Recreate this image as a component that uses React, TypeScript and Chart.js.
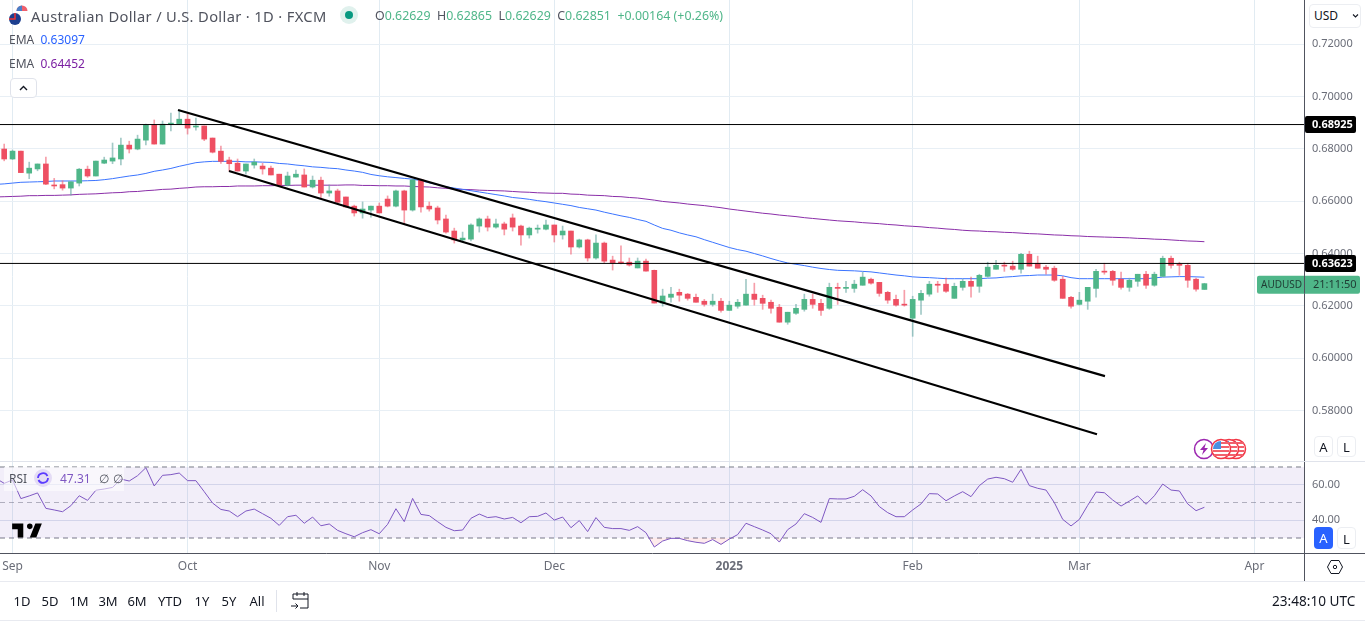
import React, { useEffect, useRef } from "react";
import { Chart, registerables } from "chart.js";

Chart.register(...registerables);

const FONT = '"Noto Sans", sans-serif';

const opens = [
  0.6800,
  0.6799,0.6761,0.6791,0.6707,0.6723,0.6742,0.6661,0.6663,0.6650,0.6669,
  0.6722,0.6696,0.6745,0.6753,0.6761,0.6814,0.6799,0.6833,0.6891,0.6818,
  0.6894,0.6894,0.6913,0.6883,0.6887,0.6841,0.6791,0.6757,0.6745,0.6715,
  0.6738,0.6734,0.6726,0.6703,0.6661,0.6692,0.6700,0.6654,0.6680,0.6631,
  0.6639,0.6616,0.6581,0.6555,0.6566,0.6581,0.6608,0.6581,0.6639,0.6566,
  0.6681,0.6581,0.6574,0.6532,0.6486,0.6452,0.6455,0.6505,0.6532,0.6501,
  0.6513,0.6536,0.6505,0.6471,0.6493,0.6493,0.6509,0.6471,0.6486,0.6425,
  0.6452,0.6383,0.6440,0.6375,0.6367,0.6367,0.6345,0.6371,0.6336,0.6211,
  0.6233,0.6252,0.6245,0.6233,0.6218,0.6206,0.6218,0.6183,0.6199,0.6203,
  0.6245,0.6229,0.6214,0.6195,0.6138,0.6172,0.6187,0.6225,0.6210,0.6191,
  0.6271,0.6267,0.6267,0.6279,0.6302,0.6290,0.6252,0.6225,0.6206,0.6153,
  0.6222,0.6245,0.6283,0.6283,0.6229,0.6271,0.6294,0.6275,0.6313,0.6340,
  0.6355,0.6352,0.6340,0.6397,0.6363,0.6348,0.6344,0.6302,0.6233,0.6206,
  0.6218,0.6267,0.6332,0.6332,0.6302,0.6271,0.6294,0.6321,0.6279,0.6313,
  0.6382,0.6359,0.6355,0.6302,0.62629,
];
const closes = [
  0.6780,
  0.6761,0.6791,0.6709,0.6726,0.6742,0.6665,0.6658,0.6650,0.6674,0.6722,
  0.6696,0.6753,0.6757,0.6765,0.6814,0.6799,0.6837,0.6891,0.6818,0.6894,
  0.6898,0.6913,0.6879,0.6887,0.6837,0.6787,0.6752,0.6743,0.6715,0.6742,
  0.6749,0.6723,0.6700,0.6661,0.6696,0.6703,0.6654,0.6680,0.6631,0.6639,
  0.6596,0.6578,0.6555,0.6570,0.6581,0.6555,0.6581,0.6639,0.6566,0.6681,
  0.6578,0.6570,0.6528,0.6482,0.6452,0.6459,0.6509,0.6532,0.6501,0.6513,
  0.6493,0.6501,0.6471,0.6497,0.6497,0.6509,0.6471,0.6486,0.6425,0.6452,
  0.6383,0.6440,0.6371,0.6364,0.6364,0.6356,0.6371,0.6333,0.6211,0.6238,
  0.6245,0.6241,0.6229,0.6214,0.6206,0.6218,0.6183,0.6203,0.6214,0.6245,
  0.6225,0.6210,0.6191,0.6138,0.6176,0.6191,0.6225,0.6206,0.6183,0.6271,
  0.6267,0.6271,0.6283,0.6310,0.6287,0.6248,0.6222,0.6203,0.6203,0.6225,
  0.6248,0.6283,0.6279,0.6256,0.6275,0.6294,0.6275,0.6317,0.6348,0.6355,
  0.6352,0.6340,0.6397,0.6352,0.6344,0.6340,0.6298,0.6229,0.6199,0.6222,
  0.6271,0.6332,0.6329,0.6298,0.6271,0.6298,0.6321,0.6279,0.6321,0.6382,
  0.6355,0.6355,0.6298,0.6264,0.62851,
];
const highs = [
  0.6815,
  0.6818,0.6795,0.6791,0.6749,0.6742,0.6768,0.6687,0.6678,0.6674,0.6725,
  0.6734,0.6753,0.6768,0.6822,0.6841,0.6829,0.6852,0.6894,0.6910,0.6906,
  0.6936,0.6948,0.6933,0.6917,0.6887,0.6841,0.6810,0.6768,0.6761,0.6742,
  0.6761,0.6745,0.6734,0.6703,0.6711,0.6719,0.6723,0.6696,0.6692,0.6662,
  0.6646,0.6616,0.6585,0.6597,0.6581,0.6593,0.6620,0.6642,0.6642,0.6684,
  0.6684,0.6597,0.6581,0.6547,0.6497,0.6482,0.6513,0.6536,0.6543,0.6532,
  0.6520,0.6551,0.6509,0.6501,0.6509,0.6528,0.6509,0.6505,0.6486,0.6455,
  0.6455,0.6471,0.6444,0.6390,0.6429,0.6383,0.6383,0.6379,0.6337,0.6264,
  0.6271,0.6264,0.6248,0.6245,0.6225,0.6245,0.6229,0.6218,0.6225,0.6302,
  0.6287,0.6241,0.6222,0.6206,0.6176,0.6206,0.6245,0.6245,0.6225,0.6287,
  0.6287,0.6294,0.6298,0.6329,0.6306,0.6290,0.6256,0.6241,0.6260,0.6237,
  0.6260,0.6294,0.6294,0.6306,0.6287,0.6302,0.6310,0.6321,0.6367,0.6374,
  0.6367,0.6371,0.6401,0.6409,0.6390,0.6355,0.6352,0.6313,0.6237,0.6252,
  0.6271,0.6340,0.6363,0.6336,0.6329,0.6306,0.6321,0.6332,0.6329,0.6390,
  0.6390,0.6367,0.6363,0.6306,0.62865,
];
const lows = [
  0.6765,
  0.6754,0.6759,0.6709,0.6686,0.6716,0.6663,0.6647,0.6642,0.6623,0.6658,
  0.6691,0.6696,0.6743,0.6743,0.6738,0.6784,0.6796,0.6815,0.6818,0.6818,
  0.6868,0.6894,0.6856,0.6871,0.6831,0.6784,0.6744,0.6715,0.6715,0.6703,
  0.6726,0.6703,0.6700,0.6661,0.6658,0.6692,0.6654,0.6650,0.6613,0.6619,
  0.6593,0.6578,0.6543,0.6535,0.6539,0.6555,0.6578,0.6578,0.6513,0.6562,
  0.6558,0.6562,0.6513,0.6478,0.6440,0.6444,0.6448,0.6482,0.6486,0.6497,
  0.6471,0.6486,0.6432,0.6459,0.6478,0.6490,0.6444,0.6455,0.6398,0.6421,
  0.6371,0.6379,0.6364,0.6337,0.6360,0.6352,0.6345,0.6333,0.6211,0.6199,
  0.6214,0.6218,0.6222,0.6214,0.6199,0.6199,0.6176,0.6183,0.6191,0.6203,
  0.6203,0.6187,0.6172,0.6138,0.6130,0.6168,0.6180,0.6191,0.6164,0.6187,
  0.6206,0.6252,0.6252,0.6279,0.6283,0.6237,0.6210,0.6199,0.6199,0.6084,
  0.6168,0.6237,0.6252,0.6252,0.6229,0.6260,0.6233,0.6252,0.6310,0.6340,
  0.6332,0.6336,0.6325,0.6352,0.6344,0.6321,0.6294,0.6229,0.6191,0.6203,
  0.6187,0.6233,0.6321,0.6279,0.6264,0.6256,0.6275,0.6267,0.6275,0.6313,
  0.6344,0.6317,0.6271,0.6256,0.62629,
];
const emaFast = [
  0.6664,
  0.6666,0.6669,0.6672,0.6673,0.6674,0.6675,0.6677,0.6677,0.6677,0.6677,
  0.6678,0.6679,0.6682,0.6686,0.6691,0.6696,0.6700,0.6706,0.6714,0.6719,
  0.6725,0.6733,0.6740,0.6747,0.6750,0.6752,0.6752,0.6752,0.6752,0.6750,
  0.6750,0.6749,0.6748,0.6744,0.6742,0.6738,0.6735,0.6731,0.6729,0.6726,
  0.6724,0.6719,0.6715,0.6710,0.6702,0.6697,0.6693,0.6690,0.6687,0.6684,
  0.6678,0.6670,0.6663,0.6655,0.6650,0.6645,0.6640,0.6635,0.6630,0.6625,
  0.6620,0.6614,0.6611,0.6607,0.6602,0.6598,0.6593,0.6588,0.6583,0.6576,
  0.6571,0.6566,0.6558,0.6551,0.6544,0.6538,0.6530,0.6523,0.6509,0.6496,
  0.6489,0.6479,0.6471,0.6464,0.6453,0.6443,0.6433,0.6423,0.6415,0.6409,
  0.6400,0.6391,0.6381,0.6372,0.6364,0.6359,0.6354,0.6348,0.6343,0.6339,
  0.6336,0.6335,0.6334,0.6332,0.6330,0.6326,0.6322,0.6318,0.6315,0.6311,
  0.6309,0.6308,0.6306,0.6304,0.6304,0.6304,0.6304,0.6304,0.6306,0.6307,
  0.6310,0.6312,0.6315,0.6316,0.6318,0.6318,0.6318,0.6315,0.6308,0.6304,
  0.6304,0.6304,0.6304,0.6304,0.6304,0.6304,0.6304,0.6304,0.6307,0.6310,
  0.6311,0.6312,0.6312,0.6311,0.63097,
];
const emaSlow = [
  0.6616,
  0.6617,0.6618,0.6619,0.6621,0.6621,0.6622,0.6622,0.6623,0.6624,0.6626,
  0.6627,0.6628,0.6630,0.6632,0.6633,0.6636,0.6637,0.6640,0.6642,0.6645,
  0.6646,0.6649,0.6651,0.6654,0.6655,0.6655,0.6656,0.6656,0.6658,0.6658,
  0.6658,0.6659,0.6659,0.6660,0.6660,0.6661,0.6661,0.6661,0.6661,0.6661,
  0.6661,0.6662,0.6662,0.6660,0.6660,0.6659,0.6659,0.6658,0.6658,0.6656,
  0.6655,0.6654,0.6651,0.6649,0.6646,0.6645,0.6644,0.6642,0.6641,0.6640,
  0.6639,0.6637,0.6635,0.6634,0.6632,0.6631,0.6630,0.6630,0.6627,0.6626,
  0.6623,0.6622,0.6621,0.6618,0.6617,0.6614,0.6612,0.6608,0.6604,0.6599,
  0.6596,0.6593,0.6589,0.6586,0.6583,0.6579,0.6575,0.6570,0.6566,0.6562,
  0.6558,0.6554,0.6551,0.6547,0.6544,0.6541,0.6537,0.6534,0.6531,0.6528,
  0.6525,0.6523,0.6521,0.6518,0.6516,0.6514,0.6511,0.6509,0.6506,0.6504,
  0.6502,0.6499,0.6497,0.6494,0.6492,0.6489,0.6487,0.6486,0.6484,0.6483,
  0.6481,0.6480,0.6478,0.6476,0.6475,0.6473,0.6471,0.6470,0.6468,0.6467,
  0.6465,0.6464,0.6463,0.6462,0.6461,0.6460,0.6458,0.6457,0.6455,0.6454,
  0.6452,0.6450,0.6448,0.6447,0.64452,
];
const rsi = [
  63.6,
  60.8,62.7,52.2,53.7,55.4,46.7,45.8,44.8,48.2,53.8,
  51.2,56.9,57.6,58.5,63.2,62.1,65.1,69.6,59.3,65.3,
  65.7,66.6,62.3,62.3,56.1,49.7,46.1,45.2,42.0,45.2,
  46.3,43.7,41.1,37.1,42.0,42.8,38.3,41.8,36.9,37.9,
  34.3,32.4,30.7,33.0,34.7,32.4,37.7,46.5,39.2,52.3,
  43.3,42.6,39.2,36.0,34.1,34.5,41.1,43.5,41.5,42.0,
  40.7,41.6,38.6,42.0,42.2,44.1,40.1,41.8,35.8,39.8,
  33.6,41.5,36.0,35.3,35.3,34.3,36.4,33.0,24.9,28.3,
  29.8,29.8,28.5,27.6,27.0,29.1,26.4,29.4,31.9,38.3,
  36.4,34.5,32.4,27.7,34.7,37.9,43.7,41.6,38.8,52.2,
  52.0,52.0,53.5,57.2,53.7,47.7,44.3,42.0,42.0,45.8,
  49.2,55.0,54.8,51.0,53.7,56.1,53.3,59.5,63.2,64.2,
  63.4,61.4,68.7,59.5,58.0,57.0,49.9,40.5,36.8,40.5,
  48.4,55.9,55.5,51.4,48.0,50.8,53.7,49.0,53.8,60.4,
  57.0,56.5,49.2,45.4,47.31,
];

const levels = [0.68925, 0.63623];
const channelUpperBars = [21.85, 133.07];
const channelUpperPrices = [0.6948, 0.5932];
const channelLowerBars = [27.97, 132.11];
const channelLowerPrices = [0.6715, 0.571];

const priceTicks = [0.58, 0.6, 0.62, 0.64, 0.66, 0.68, 0.7, 0.72];
const rsiTicks = [40, 60];
const rsiBands = [70, 50, 30];
const timeTickBars = [2, 23, 46, 67, 88, 110, 130, 151];
const timeTickLabels = ["Sep", "Oct", "Nov", "Dec", "2025", "Feb", "Mar", "Apr"];
const rangeButtons = ["1D", "5D", "1M", "3M", "6M", "YTD", "1Y", "5Y", "All"];
const rangeCenters = [22, 50, 79, 108, 137, 170, 202, 229, 257];

const GREEN = "#4fb689";
const RED = "#ee4f62";
const X_MIN = 0.496;
const X_MAX = 156.95;
const lastPrice = closes[closes.length - 1];

const pts = (xs: number[], ys: number[]) => xs.map((x, i) => ({ x, y: ys[i] }));
const barIdx = opens.map((_, i) => i);
const flat = (v: number) => [{ x: X_MIN, y: v }, { x: X_MAX, y: v }];

const noPadding = (s: any) => {
  s.paddingTop = 0;
  s.paddingBottom = 0;
  s.paddingLeft = 0;
  s.paddingRight = 0;
};

const tagsPlugin = {
  id: "tags",
  beforeDatasetsDraw(chart: any) {
    const { ctx, scales } = chart;
    ctx.save();
    ctx.fillStyle = "#e0e3eb";
    ctx.fillRect(0, Math.round(scales.yPrice.bottom), 1365, 1);
    ctx.restore();
  },
  afterDraw(chart: any) {
    const { ctx, scales } = chart;
    ctx.save();
    ctx.textBaseline = "middle";
    levels.forEach((v) => {
      const y = scales.yPrice.getPixelForValue(v);
      ctx.fillStyle = "#000";
      ctx.beginPath();
      ctx.roundRect(1305, y - 8.5, 51, 17, 2);
      ctx.fill();
      ctx.fillStyle = "#fff";
      ctx.font = `bold 11px ${FONT}`;
      ctx.textAlign = "left";
      ctx.fillText(v.toFixed(5), 1312, y + 0.5);
    });
    const ty = scales.yPrice.getPixelForValue(lastPrice) + 1;
    ctx.fillStyle = GREEN;
    ctx.beginPath();
    ctx.roundRect(1257, ty - 9, 103, 18, 2);
    ctx.fill();
    ctx.fillStyle = "#50535e";
    ctx.fillRect(1304, ty - 9, 1, 18);
    ctx.fillStyle = "#1f3b33";
    ctx.font = `10px ${FONT}`;
    ctx.fillText("AUDUSD", 1261, ty + 0.5);
    ctx.font = `11px ${FONT}`;
    ctx.fillText("21:11:50", 1313, ty + 0.5);
    ctx.restore();
  },
};

const abs = (left: number, top: number, extra: React.CSSProperties = {}): React.CSSProperties => ({
  position: "absolute",
  left,
  top,
  whiteSpace: "nowrap",
  ...extra,
});

function ScaleBtn({ left, top, label, active, height = 21 }: { left: number; top: number; label: string; active?: boolean; height?: number }) {
  return (
    <div
      style={abs(left, top, {
        width: 19,
        height,
        lineHeight: `${height}px`,
        textAlign: "center",
        fontSize: 13,
        borderRadius: 4,
        border: active ? "none" : "1px solid #eceef2",
        boxSizing: "border-box",
        background: active ? "#2962ff" : "#fff",
        color: active ? "#fff" : "#131722",
      })}
    >
      {label}
    </div>
  );
}

function UsFlag({ left }: { left: number }) {
  return (
    <svg style={abs(left, 438)} width="22" height="22" viewBox="0 0 22 22">
      <circle cx="11" cy="11" r="9.5" fill="#fff" stroke="#f23645" strokeWidth="1.5" />
      <rect x="3" y="12" width="16" height="2" fill="#f2606c" />
      <rect x="4" y="16" width="14" height="2" fill="#f2606c" />
      <rect x="11" y="4" width="8" height="2" fill="#f2606c" />
      <rect x="11" y="8" width="8" height="2" fill="#f2606c" />
      <path d="M3 11 A8 8 0 0 1 11 3 V11 Z" fill="#4a90e2" />
    </svg>
  );
}

export default function App() {
  const ref = useRef<HTMLCanvasElement>(null);

  useEffect(() => {
    document.body.style.margin = "0";
    document.body.style.background = "#fff";
    document.body.style.overflow = "hidden";
    const canvas = ref.current!;
    const isUp = (i: number) => closes[i] >= opens[i];
    const chart = new Chart(canvas, {
      type: "bar",
      plugins: [tagsPlugin],
      data: {
        datasets: [
          ...rsiBands.map((v, n) => ({
            type: "line",
            yAxisID: "yRsi",
            data: flat(v),
            borderColor: n === 1 ? "rgba(120,123,134,0.55)" : "#787b86",
            borderWidth: 1,
            borderDash: [5, 4],
            pointRadius: 0,
            order: 20,
            fill: n === 0 ? { target: { value: 30 }, above: "rgba(126,87,194,0.1)", below: "transparent" } : false,
          })),
          {
            type: "line",
            yAxisID: "yRsi",
            data: pts(barIdx, rsi),
            borderColor: "#7e57c2",
            borderWidth: 1,
            pointRadius: 0,
            tension: 0,
            order: 10,
            fill: { target: { value: 30 }, above: "transparent", below: "rgba(242,54,69,0.1)" },
          },
          {
            type: "line",
            yAxisID: "yPrice",
            data: pts(barIdx, emaSlow),
            borderColor: "#8a2ea8",
            borderWidth: 1,
            pointRadius: 0,
            tension: 0,
            order: 9,
          },
          {
            type: "line",
            yAxisID: "yPrice",
            data: pts(barIdx, emaFast),
            borderColor: "#3b74ff",
            borderWidth: 1,
            pointRadius: 0,
            tension: 0,
            order: 8,
          },
          {
            type: "bar",
            yAxisID: "yPrice",
            grouped: false,
            barThickness: 1,
            order: 7,
            data: barIdx.map((i) => ({ x: i, y: [lows[i], highs[i]] })),
            backgroundColor: barIdx.map((i) => (isUp(i) ? "rgba(100,165,160,0.6)" : "rgba(238,79,98,0.55)")),
            borderWidth: 0,
          },
          {
            type: "bar",
            yAxisID: "yPrice",
            grouped: false,
            barThickness: 5,
            minBarLength: 1,
            order: 6,
            data: barIdx.map((i) => ({ x: i, y: [opens[i], closes[i]] })),
            backgroundColor: barIdx.map((i) => (isUp(i) ? GREEN : RED)),
            borderWidth: 0,
          },
          ...levels.map((v) => ({
            type: "line",
            yAxisID: "yPrice",
            data: flat(v),
            borderColor: "#000",
            borderWidth: 1,
            pointRadius: 0,
            order: 2,
          })),
          {
            type: "line",
            yAxisID: "yPrice",
            data: pts(channelUpperBars, channelUpperPrices),
            borderColor: "#000",
            borderWidth: 2.2,
            pointRadius: 0,
            order: 1,
          },
          {
            type: "line",
            yAxisID: "yPrice",
            data: pts(channelLowerBars, channelLowerPrices),
            borderColor: "#000",
            borderWidth: 2.2,
            pointRadius: 0,
            order: 1,
          },
        ] as any,
      },
      options: {
        animation: false,
        responsive: false,
        devicePixelRatio: 1,
        layout: { padding: { top: 0, left: 0, right: 0, bottom: 40 } },
        plugins: { legend: { display: false }, tooltip: { enabled: false }, title: { display: false } },
        scales: {
          x: {
            type: "linear",
            position: "bottom",
            min: X_MIN,
            max: X_MAX,
            offset: false,
            afterBuildTicks: (s: any) => {
              s.ticks = timeTickBars.map((value) => ({ value }));
            },
            afterFit: (s: any) => {
              s.height = 28;
              noPadding(s);
            },
            grid: { color: "#e1ebf2", drawTicks: false, offset: false },
            border: { color: "#50535e", display: true },
            ticks: {
              autoSkip: false,
              maxRotation: 0,
              padding: 6,
              color: "#6a6d78",
              font: (c: any) => ({
                family: FONT,
                size: 12,
                weight: timeTickLabels[timeTickBars.indexOf(c.tick?.value)] === "2025" ? "bold" : "normal",
              }),
              callback: (v: any) => timeTickLabels[timeTickBars.indexOf(v)] ?? "",
            },
          },
          yPrice: {
            type: "linear",
            position: "right",
            stack: "panes",
            stackWeight: 461,
            min: 0.5608,
            max: 0.7368,
            afterBuildTicks: (s: any) => {
              s.ticks = priceTicks.map((value) => ({ value }));
            },
            afterFit: (s: any) => {
              s.width = 61;
              noPadding(s);
            },
            grid: { color: "#e8eff5", drawTicks: false },
            border: { color: "#50535e", display: true },
            ticks: {
              autoSkip: false,
              padding: 8,
              color: "#6a6d78",
              font: { family: FONT, size: 11 },
              callback: (v: any) => Number(v).toFixed(5),
            },
          },
          yRsi: {
            type: "linear",
            position: "right",
            stack: "panes",
            stackWeight: 92,
            min: 21.55,
            max: 73.38,
            afterBuildTicks: (s: any) => {
              s.ticks = rsiTicks.map((value) => ({ value }));
            },
            afterFit: (s: any) => {
              s.width = 61;
              noPadding(s);
            },
            grid: { color: "#dde3ef", drawTicks: false },
            border: { color: "#50535e", display: true },
            ticks: {
              autoSkip: false,
              padding: 8,
              color: "#6a6d78",
              font: { family: FONT, size: 11 },
              callback: (v: any) => Number(v).toFixed(2),
            },
          },
        },
      } as any,
    });
    return () => chart.destroy();
  }, []);

  const grey = "#50535e";
  const hl = { color: GREEN };
  return (
    <div style={{ position: "relative", width: 1365, height: 621, overflow: "hidden", fontFamily: FONT, background: "#fff" }}>
      <canvas ref={ref} width={1365} height={621} style={{ display: "block" }} />

      {/* header */}
      <svg style={abs(8, 4)} width="22" height="22" viewBox="0 0 22 22">
        <circle cx="14" cy="7" r="5.5" fill="#fff" />
        <path d="M8.5 7 A5.5 5.5 0 0 1 19.5 7 Z" fill="#ef5f6c" />
        <path d="M8.5 7 A5.5 5.5 0 0 1 14 1.5 V7 Z" fill="#4a7fc8" />
        <circle cx="7" cy="15" r="6" fill="#1c3f8f" />
        <path d="M7 9 V15 H1" stroke="#e33" strokeWidth="1.5" fill="none" />
      </svg>
      <div style={abs(31, 6, { fontSize: 14.7, letterSpacing: 0.35, lineHeight: "20px", color: grey })}>
        Australian Dollar / U.S. Dollar · 1D · FXCM
      </div>
      <div style={abs(340, 6, { width: 18, height: 18, borderRadius: 9, background: "#e0f1ed" })} />
      <div style={abs(345, 11, { width: 8, height: 8, borderRadius: 4, background: "#089981" })} />
      <div style={abs(375, 7, { fontSize: 12.4, lineHeight: "18px", color: grey })}>
        O<span style={hl}>0.62629</span>&nbsp; H<span style={hl}>0.62865</span>&nbsp; L<span style={hl}>0.62629</span>&nbsp; C
        <span style={hl}>0.62851</span>&nbsp; <span style={hl}>+0.00164 (+0.26%)</span>
      </div>
      <div style={abs(9, 32, { fontSize: 12, lineHeight: "16px", color: grey })}>
        EMA&nbsp; <span style={{ color: "#2962ff" }}>0.63097</span>
      </div>
      <div style={abs(9, 56, { fontSize: 12, lineHeight: "16px", color: grey })}>
        EMA&nbsp; <span style={{ color: "#7b1fa2" }}>0.64452</span>
      </div>
      <div style={abs(10, 78, { width: 27, height: 20, boxSizing: "border-box", border: "1px solid #e0e3eb", borderRadius: 4, background: "#fff" })}>
        <svg width="25" height="18" viewBox="0 0 25 18">
          <path d="M9 11 L12.5 7.5 L16 11" stroke="#131722" strokeWidth="1.4" fill="none" />
        </svg>
      </div>

      {/* RSI legend */}
      <div style={abs(4, 467, { width: 120, height: 24, background: "rgba(255,255,255,0.55)" })} />
      <div style={abs(9, 471, { fontSize: 12, lineHeight: "16px", color: grey })}>RSI</div>
      <svg style={abs(33, 468)} width="20" height="20" viewBox="0 0 20 20">
        <circle cx="10" cy="10" r="9" fill="#e4dcf5" />
        <path d="M5 10 A5 5 0 0 1 14.5 8 M15 10 A5 5 0 0 1 5.5 12" stroke="#5b3bff" strokeWidth="1.8" fill="none" />
      </svg>
      <div style={abs(60, 471, { fontSize: 12, lineHeight: "16px", color: "#7e57c2" })}>47.31</div>
      <div style={abs(99, 471, { fontSize: 12, lineHeight: "16px", color: grey })}>∅</div>
      <div style={abs(113, 471, { fontSize: 12, lineHeight: "16px", color: grey })}>∅</div>

      {/* logo */}
      <svg style={abs(9.8, 518)} width="34" height="26" viewBox="0 0 36 28">
        <path d="M14 6H2v6h6v9h6V6zm14 15h-7l6-15h7l-6 15zm-7-9a3 3 0 1 0 0-6 3 3 0 0 0 0 6z" fill="#000" />
      </svg>

      {/* events */}
      <UsFlag left={1225} />
      <UsFlag left={1218} />
      <svg style={abs(1193, 438)} width="22" height="22" viewBox="0 0 22 22">
        <circle cx="11" cy="11" r="9.5" fill="#fff" stroke="#9c27b0" strokeWidth="1.5" />
        <path d="M13 5 L7 12 H10.5 L9 17 L15 10 H11.5 Z" fill="#9c27b0" />
      </svg>
      <UsFlag left={1210} />

      {/* right-hand controls */}
      <div style={abs(1309, 4, { width: 52, height: 24, boxSizing: "border-box", border: "1px solid #eceef2", borderRadius: 4, background: "#fff", fontSize: 12, lineHeight: "22px", paddingLeft: 4, color: "#131722" })}>
        USD
        <svg style={abs(41, 6)} width="9" height="9" viewBox="0 0 9 9">
          <path d="M2 3.5 L4.5 6 L7 3.5" stroke="#131722" strokeWidth="1.1" fill="none" />
        </svg>
      </div>
      <ScaleBtn left={1314} top={436} label="A" />
      <ScaleBtn left={1337} top={436} label="L" />
      <ScaleBtn left={1314} top={527} label="A" active height={22} />
      <ScaleBtn left={1337} top={527} label="L" height={22} />
      <svg style={abs(1326, 558)} width="18" height="18" viewBox="0 0 18 18">
        <path d="M5 2.5 H13 L16.5 9 L13 15.5 H5 L1.5 9 Z" stroke="#131722" strokeWidth="1" fill="none" />
        <circle cx="9" cy="9" r="1.7" stroke="#131722" strokeWidth="1" fill="none" />
      </svg>

      {/* frame lines */}
      <div style={abs(1304, 553, { width: 1, height: 28, background: grey })} />
      <div style={abs(1305, 553, { width: 60, height: 1, background: grey })} />
      <div style={abs(0, 581, { width: 1365, height: 1, background: "#e8eaf0" })} />
      <div style={abs(0, 620, { width: 1365, height: 1, background: "#e8eaf0" })} />
      <div style={abs(276, 590, { width: 1, height: 22, background: "#e0e3eb" })} />

      {/* bottom toolbar */}
      {rangeButtons.map((b, i) => (
        <div key={b} style={abs(rangeCenters[i] - 20, 592, { width: 40, textAlign: "center", fontSize: 13, lineHeight: "18px", color: "#131722" })}>
          {b}
        </div>
      ))}
      <svg style={abs(289, 590)} width="22" height="22" viewBox="0 0 22 22">
        <path d="M4 9 V4 H19 V18 H11 M4 9 H19 M8 2 V6 M15 2 V6 M2 16 H9 M6.5 13.5 L9 16 L6.5 18.5" stroke="#131722" strokeWidth="1" fill="none" />
      </svg>
      <div style={abs(1272, 592, { fontSize: 13.6, lineHeight: "18px", color: "#131722" })}>23:48:10 UTC</div>
    </div>
  );
}
